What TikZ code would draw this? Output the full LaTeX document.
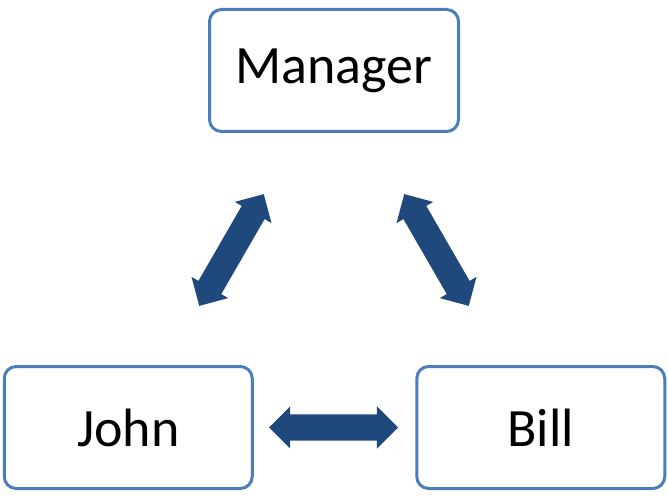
\documentclass[tikz,border=0pt]{standalone}
\usepackage{fontspec}
\setmainfont{Carlito}
\usetikzlibrary{shapes.arrows}
\definecolor{boxline}{HTML}{4A7EBB}
\definecolor{arrowfill}{HTML}{1F497D}
\tikzset{
  personbox/.style={draw=boxline, line width=3pt, rounded corners=12pt, fill=white,
    minimum width=248pt, minimum height=122pt, inner sep=0pt,
    font=\fontsize{54}{64}\selectfont},
  dblarrow/.style={double arrow, fill=arrowfill, draw=none, inner sep=0pt, inner ysep=13pt,
    minimum height=129pt, double arrow head extend=8pt, double arrow tip angle=90}
}
\begin{document}
\begin{tikzpicture}[x=1pt,y=1pt]
\useasboundingbox (0,0) rectangle (668,498);
\node[personbox, minimum width=249pt] (manager) at (334,427.5) {Manager};
\node[personbox] (john) at (128.25,70.5) {John};
\node[personbox] (bill) at (540.75,70.5) {Bill};
\node[dblarrow, rotate=60] (a1) at (231.5,248) {};
\node[dblarrow, rotate=-60] (a2) at (436.5,248) {};
\node[dblarrow] (a3) at (333.5,70.5) {};
\end{tikzpicture}
\end{document}
